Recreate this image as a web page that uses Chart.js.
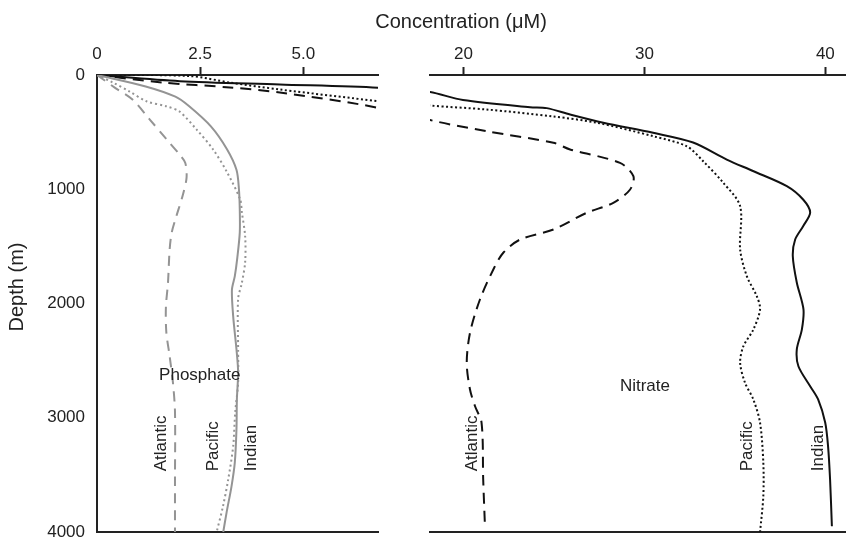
<!DOCTYPE html>
<html lang="en">
<head>
    <meta charset="UTF-8">
    <title>Phosphate and nitrate profiles</title>
    <style>
        html, body { margin: 0; padding: 0; background: #fff; }
        #wrap { position: relative; width: 846px; height: 542px; }
        #wrap canvas { position: absolute; left: 0; top: 0; }
    </style>
</head>
<body>
    <div id="wrap">
        <canvas id="phosChart" width="846" height="542"></canvas>
        <canvas id="nitChart" width="846" height="542"></canvas>
    </div>
<script src="https://cdn.jsdelivr.net/npm/chart.js"></script>
<script>
    // depths in m, concentrations in uM
    const phosDepthAtlantic = [0, 110, 215, 390, 565, 700, 770, 900, 1050, 1240, 1380, 1530, 1820, 2030, 2250, 2460, 2690, 2950, 3540, 4000];
    const phosAtlantic      = [0, 0.43, 0.86, 1.28, 1.69, 2.01, 2.14, 2.17, 2.08, 1.92, 1.81, 1.76, 1.72, 1.67, 1.68, 1.76, 1.84, 1.89, 1.89, 1.89];
    const phosDepthPacific  = [0, 65, 145, 230, 275, 320, 480, 650, 850, 1090, 1200, 1410, 1640, 1820, 1960, 2400, 2690, 2950, 3250, 3540, 3780, 4000];
    const phosPacific       = [0, 0.38, 0.79, 1.20, 1.69, 2.00, 2.42, 2.81, 3.15, 3.47, 3.51, 3.59, 3.59, 3.51, 3.42, 3.42, 3.42, 3.35, 3.30, 3.18, 3.05, 2.90];
    const phosDepthIndian   = [0, 100, 190, 270, 450, 650, 830, 1000, 1180, 1380, 1600, 1760, 1880, 2110, 2400, 2600, 2840, 3100, 3390, 3600, 3830, 4000];
    const phosIndian        = [0, 1.18, 1.90, 2.22, 2.76, 3.15, 3.38, 3.44, 3.46, 3.46, 3.40, 3.34, 3.27, 3.30, 3.38, 3.42, 3.39, 3.38, 3.34, 3.26, 3.14, 3.06];

    // nitrate: values below 16 show in the left panel, the axis is broken between 16 and 18.15
    const nitDepthAtlantic = [0, 66, 109, 153, 287, 394, 492, 593, 652, 769, 886, 1002, 1119, 1206, 1352, 1440, 1556, 1702, 1965, 2257, 2519, 2753, 2899, 3044, 3541, 3920];
    const nitAtlantic      = [0, 3.74, 7.56, 10.41, 16.0, 18.15, 21.28, 24.97, 25.89, 28.65, 29.39, 29.21, 28.28, 26.81, 24.97, 23.13, 22.20, 21.65, 20.91, 20.36, 20.18, 20.36, 20.64, 21.00, 21.09, 21.18];
    const nitDepthPacific  = [0, 9, 66, 127, 229, 267, 302, 363, 418, 536, 624, 757, 944, 1148, 1527, 1761, 1936, 2052, 2228, 2374, 2519, 2694, 2840, 3044, 3392, 3687, 4000];
    const nitPacific       = [0, 5.28, 7.56, 10.41, 16.0, 18.15, 21.28, 24.97, 27.37, 30.49, 32.34, 33.26, 34.36, 35.29, 35.29, 35.66, 36.21, 36.39, 36.02, 35.47, 35.29, 35.56, 36.02, 36.39, 36.57, 36.57, 36.39];
    const nitDepthIndian   = [0, 54, 83, 112, 149, 219, 282, 290, 346, 418, 506, 591, 740, 840, 973, 1090, 1204, 1323, 1440, 1586, 1816, 2052, 2228, 2403, 2549, 2724, 2840, 3042, 3252, 3541, 3950];
    const nitIndian        = [0, 4.71, 10.41, 16.0, 18.15, 19.97, 23.68, 24.60, 25.89, 27.73, 30.48, 32.69, 34.55, 36.00, 37.87, 38.77, 39.16, 38.77, 38.33, 38.20, 38.42, 38.79, 38.70, 38.42, 38.51, 39.16, 39.60, 39.99, 40.15, 40.26, 40.36];

    const phosTicks = [0, 2.5, 5.0];
    const nitTicks = [20, 30, 40];
    const depthTicks = [0, 1000, 2000, 3000, 4000];

    const oceans = ['Atlantic', 'Pacific', 'Indian'];
    const phosLabelX = [1.56, 2.83, 3.75];
    const nitLabelX = [20.50, 35.70, 39.60];
    const oceanLabelDepth = 3468;

    const GREY = '#949494';
    const INK = '#222';
    const FONT = '"Liberation Sans", Arial, sans-serif';

    Chart.defaults.font.family = FONT;
    Chart.defaults.color = INK;

    function pairs(vals, depths) {
        return vals.map((v, i) => ({ x: v, y: depths[i] }));
    }

    // names written next to the curves
    const curveLabels = {
        id: 'curveLabels',
        afterDatasetsDraw(chart, args, opts) {
            const ctx = chart.ctx;
            const xs = chart.scales[opts.xAxis];
            const ys = chart.scales.y;
            ctx.save();
            ctx.fillStyle = INK;
            ctx.font = '17px ' + FONT;
            ctx.textBaseline = 'middle';
            ctx.textAlign = 'center';
            ctx.fillText(opts.name, xs.getPixelForValue(opts.nameX), ys.getPixelForValue(opts.nameDepth));
            ctx.textAlign = 'left';
            oceans.forEach((o, i) => {
                ctx.save();
                ctx.translate(xs.getPixelForValue(opts.oceanX[i]), ys.getPixelForValue(oceanLabelDepth));
                ctx.rotate(-Math.PI / 2);
                ctx.fillText(o, 0, 0);
                ctx.restore();
            });
            ctx.restore();
        }
    };

    // shared axis titles
    const axisTitles = {
        id: 'axisTitles',
        afterDraw(chart) {
            const ctx = chart.ctx;
            ctx.save();
            ctx.fillStyle = INK;
            ctx.font = '20px ' + FONT;
            ctx.textAlign = 'center';
            ctx.textBaseline = 'middle';
            ctx.fillText('Concentration (\u03bcM)', 461, 22);
            ctx.translate(17, 287);
            ctx.rotate(-Math.PI / 2);
            ctx.fillText('Depth (m)', 0, 0);
            ctx.restore();
        }
    };

    function noPad(s) {
        s.paddingTop = 0;
        s.paddingBottom = 0;
        s.paddingLeft = 0;
        s.paddingRight = 0;
    }

    function line(data, xAxisID, color, dash) {
        return {
            data: data,
            xAxisID: xAxisID,
            yAxisID: 'y',
            borderColor: color,
            borderWidth: 2,
            borderDash: dash,
            pointRadius: 0,
            fill: false,
            tension: 0.3
        };
    }

    function topAxis(min, max, ticks, fmt) {
        return {
            type: 'linear',
            position: 'top',
            min: min,
            max: max,
            afterBuildTicks: s => { s.ticks = ticks.map(v => ({ value: v })); },
            afterFit: s => { s.height = 75; noPad(s); },
            ticks: { padding: 2, maxRotation: 0, font: { size: 17 }, callback: fmt },
            grid: {
                display: true, drawOnChartArea: false, drawTicks: true,
                tickLength: 8, tickWidth: 2,
                tickColor: c => (c.tick && c.tick.value === min) ? 'transparent' : INK
            },
            border: { display: true, color: INK, width: 2 }
        };
    }

    const bottomAxis = {
        type: 'linear',
        position: 'bottom',
        min: 0,
        max: 1,
        afterFit: s => { s.height = 10; noPad(s); },
        ticks: { display: false },
        grid: { display: true, drawOnChartArea: false, drawTicks: false },
        border: { display: true, color: INK, width: 2 }
    };

    const phosConfig = {
        type: 'line',
        data: {
            datasets: [
                line(pairs(phosAtlantic, phosDepthAtlantic), 'xP', GREY, [10, 7]),
                line(pairs(phosPacific, phosDepthPacific), 'xP', GREY, [2, 3]),
                line(pairs(phosIndian, phosDepthIndian), 'xP', GREY, []),
                line(pairs(nitAtlantic, nitDepthAtlantic), 'xN', '#111', [11, 7]),
                line(pairs(nitPacific, nitDepthPacific), 'xN', '#111', [2, 2.5]),
                line(pairs(nitIndian, nitDepthIndian), 'xN', '#111', [])
            ]
        },
        options: {
            responsive: false,
            animation: false,
            events: [],
            layout: { padding: { left: 0, right: 468, top: 0, bottom: 0 } },
            elements: { line: { capBezierPoints: false } },
            plugins: {
                legend: { display: false },
                tooltip: { enabled: false },
                curveLabels: { xAxis: 'xP', name: 'Phosphate', nameX: 2.49, nameDepth: 2630, oceanX: phosLabelX }
            },
            scales: {
                xP: topAxis(0, 6.81, phosTicks, v => v === 0 ? '0' : v.toFixed(1)),
                xN: { type: 'linear', display: false, min: 0, max: 16 },
                xB: bottomAxis,
                y: {
                    type: 'linear',
                    position: 'left',
                    reverse: true,
                    min: 0,
                    max: 4000,
                    afterBuildTicks: s => { s.ticks = depthTicks.map(v => ({ value: v })); },
                    afterFit: s => { s.width = 97; noPad(s); },
                    ticks: { padding: 12, font: { size: 17 }, callback: v => String(v) },
                    grid: { display: true, drawOnChartArea: false, drawTicks: false },
                    border: { display: true, color: INK, width: 2 }
                }
            }
        },
        plugins: [curveLabels, axisTitles]
    };

    const nitConfig = {
        type: 'line',
        data: {
            datasets: [
                line(pairs(nitAtlantic, nitDepthAtlantic), 'xN', '#111', [11, 7]),
                line(pairs(nitPacific, nitDepthPacific), 'xN', '#111', [2, 2.5]),
                line(pairs(nitIndian, nitDepthIndian), 'xN', '#111', [])
            ]
        },
        options: {
            responsive: false,
            animation: false,
            events: [],
            layout: { padding: { left: 430, right: 0, top: 0, bottom: 0 } },
            elements: { line: { capBezierPoints: false } },
            plugins: {
                legend: { display: false },
                tooltip: { enabled: false },
                curveLabels: { xAxis: 'xN', name: 'Nitrate', nameX: 30.03, nameDepth: 2727, oceanX: nitLabelX }
            },
            scales: {
                xN: topAxis(18.15, 41.14, nitTicks, v => String(v)),
                xB: bottomAxis,
                y: { type: 'linear', display: false, reverse: true, min: 0, max: 4000 }
            }
        },
        plugins: [curveLabels]
    };

    var phosChart = new Chart(document.getElementById('phosChart'), phosConfig);
    var nitChart = new Chart(document.getElementById('nitChart'), nitConfig);
</script>
</body>
</html>
